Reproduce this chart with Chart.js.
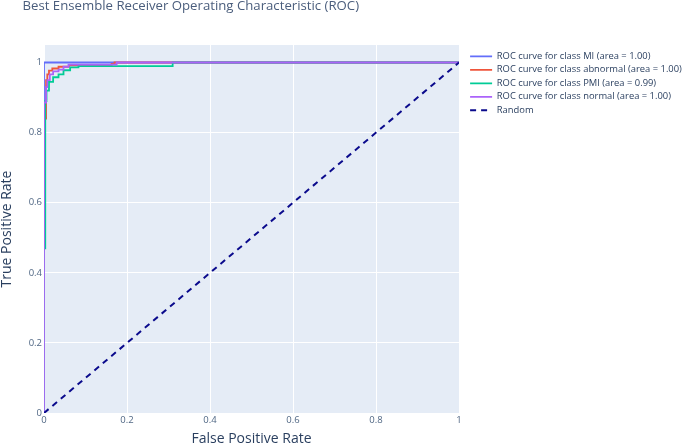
<!DOCTYPE html>
<html lang="en">
<head>
<meta charset="UTF-8">
<title>Best Ensemble ROC</title>
<script src="https://cdn.jsdelivr.net/npm/chart.js@4.4.0/dist/chart.umd.min.js"></script>
<style>
    html, body { margin: 0; padding: 0; background: #fff; }
    #wrap { width: 685px; height: 444px; }
</style>
</head>
<body>
<div id="wrap"><canvas id="roc" width="685" height="444"></canvas></div>

<script>
    // ROC points (false positive rate / true positive rate) per class
    const miFpr = [0, 0, 1];
    const miTpr = [0, 1, 1];

    const abnormalFpr = [0, 0, 0.005, 0.005, 0.008, 0.008, 0.012, 0.012, 0.02, 0.02, 0.035, 0.035, 0.06, 0.06, 0.163, 0.163, 0.17, 0.17, 1];
    const abnormalTpr = [0, 0.84, 0.84, 0.95, 0.95, 0.966, 0.966, 0.977, 0.977, 0.983, 0.983, 0.988, 0.988, 0.992, 0.992, 0.996, 0.996, 1, 1];

    const pmiFpr = [0, 0, 0.003, 0.003, 0.006, 0.006, 0.012, 0.012, 0.022, 0.022, 0.035, 0.035, 0.047, 0.047, 0.063, 0.063, 0.083, 0.083, 0.31, 0.31, 1];
    const pmiTpr = [0, 0.47, 0.47, 0.89, 0.89, 0.92, 0.92, 0.945, 0.945, 0.958, 0.958, 0.966, 0.966, 0.978, 0.978, 0.986, 0.986, 0.99, 0.99, 1, 1];

    const normalFpr = [0, 0, 0.005, 0.005, 0.008, 0.008, 0.014, 0.014, 0.022, 0.022, 0.035, 0.035, 0.047, 0.047, 0.059, 0.059, 0.175, 0.175, 1];
    const normalTpr = [0, 0.886, 0.886, 0.93, 0.93, 0.95, 0.95, 0.966, 0.966, 0.975, 0.975, 0.98, 0.98, 0.988, 0.988, 0.994, 0.994, 1, 1];

    const randomFpr = [0, 1];
    const randomTpr = [0, 1];

    const seriesNames = [
        'ROC curve for class MI (area = 1.00)',
        'ROC curve for class abnormal (area = 1.00)',
        'ROC curve for class PMI (area = 0.99)',
        'ROC curve for class normal (area = 1.00)',
        'Random'
    ];
    const seriesColors = ['#636efa', '#EF553B', '#00cc96', '#ab63fa', '#0a0a8c'];

    const tickValues = [0, 0.2, 0.4, 0.6, 0.8, 1];
    const tickLabels = ['0', '0.2', '0.4', '0.6', '0.8', '1'];

    const chartTitle = 'Best Ensemble Receiver Operating Characteristic (ROC)';

    function toPoints(xs, ys) {
        return xs.map((x, i) => ({x: x, y: ys[i]}));
    }

    const curves = [
        toPoints(miFpr, miTpr),
        toPoints(abnormalFpr, abnormalTpr),
        toPoints(pmiFpr, pmiTpr),
        toPoints(normalFpr, normalTpr),
        toPoints(randomFpr, randomTpr)
    ];

    // later traces sit on top, like plotly
    const datasets = curves.map((pts, i) => ({
        label: seriesNames[i],
        data: pts,
        borderColor: seriesColors[i],
        backgroundColor: seriesColors[i],
        borderWidth: i == 4 ? 2 : 1.8,
        borderDash: i == 4 ? [6, 5] : [],
        pointRadius: 0,
        fill: false,
        tension: 0,
        order: curves.length - i
    }));

    const textColor = '#2a3f5f';
    const tickColor = '#506784';
    const fontFamily = '"Open Sans", verdana, arial, sans-serif';

    const plotBackground = {
        id: 'plotBackground',
        beforeDraw(chart) {
            const a = chart.chartArea;
            const ctx = chart.ctx;
            ctx.save();
            ctx.fillStyle = '#e5ecf6';
            ctx.fillRect(a.left, a.top, a.right - a.left, a.bottom - a.top);
            ctx.restore();
        },
        afterDraw(chart) {
            const ctx = chart.ctx;
            ctx.save();
            ctx.font = '13.2px ' + fontFamily;
            ctx.fillStyle = '#4a5d7c';
            ctx.textBaseline = 'alphabetic';
            ctx.fillText(chartTitle, 22.5, 9.5);
            ctx.restore();
        }
    };

    // fixed legend width, then nudge it right of the plot
    const legendPlace = {
        id: 'legendPlace',
        beforeInit(chart) {
            const fit = chart.legend.fit;
            chart.legend.fit = function () {
                fit.call(this);
                this.width = 226;
            };
        },
        afterLayout(chart) {
            const lg = chart.legend;
            lg.left += 7;
            lg.right += 7;
            lg.top += 2.5;
        }
    };

    const ctx = document.getElementById('roc').getContext('2d');
    const rocChart = new Chart(ctx, {
        type: 'line',
        data: { datasets: datasets },
        plugins: [plotBackground, legendPlace],
        options: {
            responsive: false,
            animation: false,
            layout: { padding: { top: 45, left: 0, right: 0, bottom: 0 } },
            scales: {
                x: {
                    type: 'linear',
                    min: 0,
                    max: 1,
                    afterFit(scale) { scale.height = 31; },
                    afterBuildTicks(scale) { scale.ticks = tickValues.map(v => ({value: v})); },
                    grid: { color: '#ffffff', lineWidth: 1, drawTicks: false },
                    border: { display: false },
                    ticks: {
                        padding: 2,
                        color: tickColor,
                        font: { family: fontFamily, size: 9.5 },
                        maxRotation: 0,
                        callback: (v) => tickLabels[tickValues.indexOf(v)]
                    },
                    title: {
                        display: true,
                        text: 'False Positive Rate',
                        color: textColor,
                        font: { family: fontFamily, size: 14, lineHeight: 1 },
                        padding: { top: 0, bottom: -2 }
                    }
                },
                y: {
                    type: 'linear',
                    min: 0,
                    max: 1.05,
                    afterFit(scale) { scale.width = 44; },
                    afterBuildTicks(scale) { scale.ticks = tickValues.map(v => ({value: v})); },
                    grid: { color: '#ffffff', lineWidth: 1, drawTicks: false },
                    border: { display: false },
                    ticks: {
                        padding: 2,
                        color: tickColor,
                        font: { family: fontFamily, size: 9.5 },
                        callback: (v) => tickLabels[tickValues.indexOf(v)]
                    },
                    title: {
                        display: true,
                        text: 'True Positive Rate',
                        color: textColor,
                        font: { family: fontFamily, size: 14, lineHeight: 1 },
                        padding: { top: 0, bottom: 0 }
                    }
                }
            },
            plugins: {
                title: { display: false },
                tooltip: { enabled: false },
                legend: {
                    display: true,
                    position: 'right',
                    align: 'start',
                    labels: {
                        usePointStyle: true,
                        pointStyle: 'line',
                        pointStyleWidth: 22,
                        padding: 4.1,
                        color: textColor,
                        font: { family: fontFamily, size: 9.4 },
                        sort: (a, b) => a.datasetIndex - b.datasetIndex,
                        generateLabels(chart) {
                            const items = Chart.defaults.plugins.legend.labels.generateLabels(chart);
                            return items.map(item => {
                                const ds = chart.data.datasets[item.datasetIndex];
                                item.lineDash = ds.borderDash;
                                item.lineWidth = ds.borderWidth;
                                item.strokeStyle = ds.borderColor;
                                return item;
                            });
                        }
                    }
                }
            }
        }
    });
</script>
</body>
</html>
